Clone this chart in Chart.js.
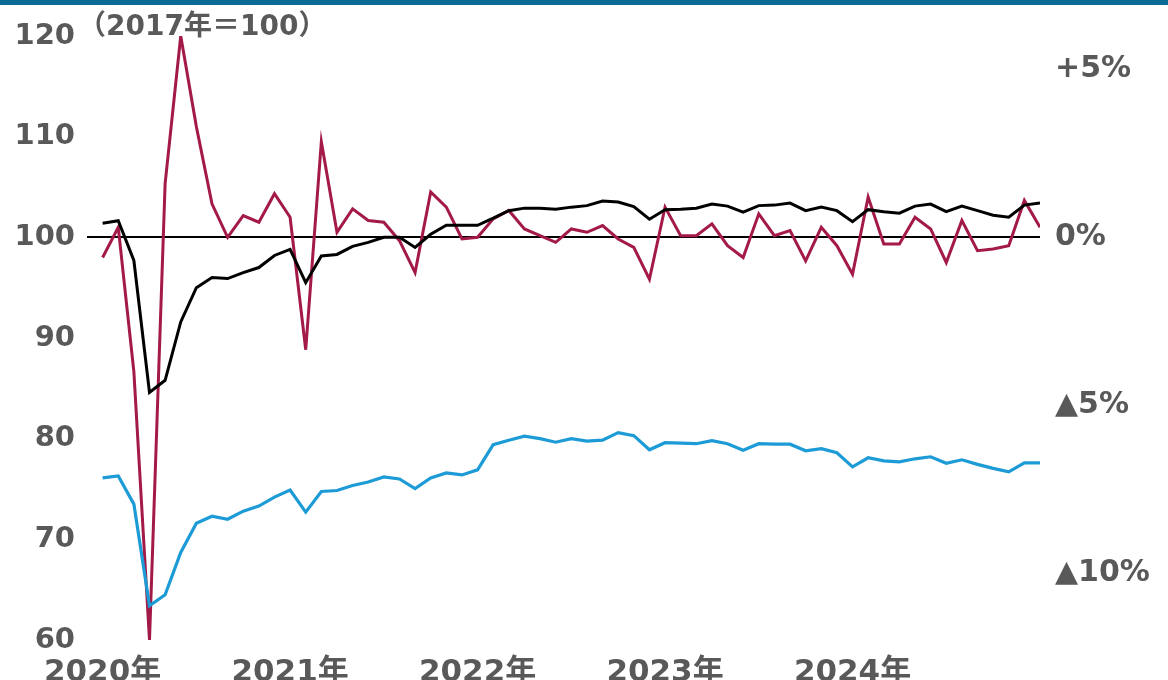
<!DOCTYPE html>
<html>
<head>
<meta charset="utf-8">
<script src="https://cdn.jsdelivr.net/npm/chart.js@4"></script>
<style>
    html, body { margin: 0; padding: 0; background: #ffffff; }
    #wrap { position: relative; width: 1168px; height: 680px; }
    #topbar { position: absolute; left: 0; top: 0; width: 1168px; height: 5px; background: #0b6b94; }
</style>
</head>
<body>
<div id="wrap">
    <canvas id="monGraphique" width="1168" height="680"></canvas>
    <div id="topbar"></div>
</div>
<script>
// mois : janv. 2020 -> janv. 2025
const months = []
for (let y = 2020; y <= 2025; y++) {
    for (let m = 1; m <= 12; m++) {
        if (y === 2025 && m > 1) break
        months.push(y + "-" + String(m).padStart(2, "0"))
    }
}

const yearTicks  = [0, 12, 24, 36, 48]
const yearLabels = ["2020年", "2021年", "2022年", "2023年", "2024年"]

const leftTicks  = [60, 70, 80, 90, 100, 110, 120]
const rightTicks = [5, 0, -5, -10]
const rightLabels = ["+5%", "0%", "▲5%", "▲10%"]

// indice (2017年=100), axe gauche
const indexBlack = [
    101.4, 101.65, 97.7, 84.6, 85.8, 91.6, 95.0, 96.0, 95.9, 96.5, 97.0, 98.2,
    98.8, 95.5, 98.15, 98.3, 99.1, 99.5, 100.0, 100.0, 99.0, 100.3, 101.2, 101.2,
    101.2, 101.9, 102.65, 102.9, 102.9, 102.8, 103.0, 103.15, 103.6, 103.5, 103.05, 101.8,
    102.75, 102.8, 102.9, 103.3, 103.1, 102.5, 103.15, 103.2, 103.4, 102.65, 103.0, 102.65,
    101.55, 102.75, 102.55, 102.4, 103.1, 103.3, 102.55, 103.1, 102.65, 102.2, 102.0, 103.2,
    103.4
]

const indexBlue = [
    76.1, 76.3, 73.5, 63.4, 64.5, 68.7, 71.6, 72.3, 72.0, 72.8, 73.3, 74.2,
    74.9, 72.7, 74.75, 74.85, 75.35, 75.7, 76.2, 76.0, 75.05, 76.1, 76.6, 76.4,
    76.9, 79.4, 79.85, 80.25, 80.0, 79.65, 80.0, 79.75, 79.85, 80.6, 80.3, 78.9,
    79.6, 79.55, 79.5, 79.8, 79.5, 78.85, 79.5, 79.45, 79.45, 78.8, 79.0, 78.6,
    77.2, 78.1, 77.8, 77.7, 78.0, 78.2, 77.55, 77.9, 77.45, 77.05, 76.7, 77.6,
    77.6
]

// variation mensuelle (%), axe droit
const changeRed = [
    -0.6, 0.3, -4.0, -12.0, 1.6, 6.0, 3.3, 1.0, 0.0, 0.65, 0.45, 1.3,
    0.6, -3.35, 2.85, 0.15, 0.85, 0.5, 0.45, -0.1, -1.05, 1.35, 0.9, -0.05,
    0.0, 0.55, 0.8, 0.25, 0.05, -0.15, 0.25, 0.15, 0.35, -0.05, -0.3, -1.25,
    0.9, 0.05, 0.05, 0.4, -0.25, -0.6, 0.7, 0.05, 0.2, -0.7, 0.3, -0.25,
    -1.1, 1.2, -0.2, -0.2, 0.6, 0.25, -0.75, 0.5, -0.4, -0.35, -0.25, 1.1,
    0.3
]

const textColor = "#595959"
const fontFamily = "'DejaVu Sans', Verdana, 'Noto Sans CJK JP', sans-serif"

const toXY = arr => arr.map((v, i) => ({ x: i, y: v }))

const unitLabel = {
    id: "unitLabel",
    afterDraw(chart) {
        const ctx = chart.ctx
        ctx.save()
        ctx.fillStyle = textColor
        ctx.font = "bold 28px " + fontFamily
        ctx.textBaseline = "middle"
        ctx.textAlign = "left"
        ctx.fillText("（2017年＝100）", 78, 28)
        ctx.restore()
    }
}

new Chart(document.getElementById("monGraphique"), {
    type: "line",
    data: {
        datasets: [
            {
                data: toXY(indexBlack),
                yAxisID: "y",
                borderColor: "#000000",
                borderWidth: 3,
                pointRadius: 0,
                tension: 0
            },
            {
                data: toXY(indexBlue),
                yAxisID: "y",
                borderColor: "#1c9bd6",
                borderWidth: 3.2,
                pointRadius: 0,
                tension: 0
            },
            {
                data: toXY(changeRed),
                yAxisID: "y2",
                borderColor: "#a31a48",
                borderWidth: 3,
                pointRadius: 0,
                tension: 0
            }
        ]
    },
    options: {
        responsive: false,
        animation: false,
        layout: { padding: { top: 36, left: 0, right: 0, bottom: 0 } },
        plugins: {
            legend: { display: false },
            tooltip: { enabled: false }
        },
        scales: {
            x: {
                type: "linear",
                min: -1,
                max: 60,
                grid: { display: false },
                border: { display: false },
                afterBuildTicks: s => { s.ticks = yearTicks.map(v => ({ value: v })) },
                afterFit: s => { s.height = 40 },
                ticks: {
                    autoSkip: false,
                    maxRotation: 0,
                    padding: 6,
                    color: textColor,
                    font: { family: fontFamily, size: 31, weight: "bold" },
                    callback: (v, i) => yearLabels[i]
                }
            },
            y: {
                position: "left",
                min: 60,
                max: 120,
                afterBuildTicks: s => { s.ticks = leftTicks.map(v => ({ value: v })) },
                afterFit: s => { s.width = 87 },
                grid: {
                    drawTicks: false,
                    color: c => c.tick && c.tick.value === 100 ? "#000000" : "rgba(0,0,0,0)",
                    lineWidth: 2
                },
                border: { display: false },
                ticks: {
                    padding: 12,
                    color: textColor,
                    font: { family: fontFamily, size: 29, weight: "bold" }
                }
            },
            y2: {
                position: "right",
                min: -12,
                max: 6,
                afterBuildTicks: s => { s.ticks = rightTicks.map(v => ({ value: v })) },
                afterFit: s => { s.width = 128 },
                grid: { display: false, drawTicks: false },
                border: { display: false },
                ticks: {
                    padding: 15,
                    color: textColor,
                    font: { family: fontFamily, size: 30, weight: "bold" },
                    callback: (v, i) => rightLabels[i]
                }
            }
        }
    },
    plugins: [unitLabel]
})
</script>
</body>
</html>
